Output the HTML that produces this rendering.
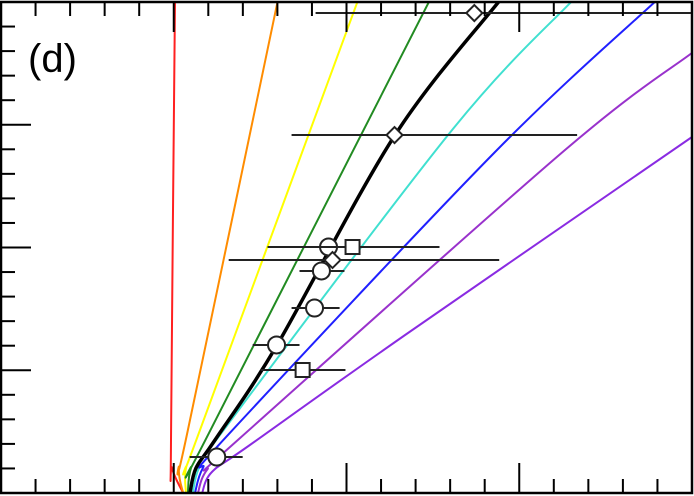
<!DOCTYPE html>
<html><head><meta charset="utf-8"><style>
html,body{margin:0;padding:0;background:#fff;}
svg{display:block;}
</style></head><body>
<svg id="chart" width="694" height="496" xmlns="http://www.w3.org/2000/svg">
<text x="28" y="72" font-family="Liberation Sans, sans-serif" font-size="40" fill="#000">(d)</text>
</svg>
<script>
// data coordinates: x 0..4, y 0..4
const curveX = [
 [1.054,0.990,0.984,1.007],
 [1.054,1.030,1.082,1.603],
 [1.071,1.071,1.152,2.067],
 [1.082,1.100,1.198,2.483],
 [1.094,1.129,1.239,1.598,2.281,2.889],
 [1.110,1.146,1.268,2.611,3.311],
 [1.123,1.169,1.314,2.871,3.797],
 [1.140,1.192,1.384,3.265,4.000],
 [1.164,1.221,1.441,2.339,4.000]];
const curveY = [
 [0,0.204,0.432,4.016],
 [0,0.204,0.513,4.016],
 [0,0.204,0.513,4.016],
 [0,0.204,0.473,4.016],
 [0,0.204,0.432,1.206,2.916,4.016],
 [0,0.204,0.473,2.957,4.016],
 [0,0.204,0.473,2.794,4.016],
 [0,0.187,0.448,2.794,3.585],
 [0,0.171,0.391,1.287,2.900]];
const curveWidths = [2,2,2,2,3.5,2,2,2,2];
const ptX = [1.249,1.595,1.815,1.855,1.896,2.035,1.919,1.746,2.278,2.740];
const ptY = [0.293,1.206,1.507,1.809,2.004,2.004,1.898,1.002,2.916,3.910];
const ptErrLo = [1.092,1.457,1.682,1.728,1.543,1.543,1.318,1.503,1.682,1.821];
const ptErrHi = [1.399,1.728,1.960,1.988,2.538,2.538,2.884,1.994,3.335,3.994];
const ptShape = ["circle","circle","circle","circle","circle","square","diamond","square","diamond","diamond"];

const NS="http://www.w3.org/2000/svg";
const svg=document.getElementById('chart');
const X0=1,X1=692,Y0=493,Y1=2;
const sx=v=>X0+v*(X1-X0)/4;
const sy=v=>Y0-v*(Y0-Y1)/4;
function mk(t,a){const e=document.createElementNS(NS,t);for(const k in a)e.setAttribute(k,a[k]);return e;}
function smooth(P){let d='M'+P[0][0].toFixed(1)+','+P[0][1].toFixed(1);
 for(let i=0;i<P.length-1;i++){const p0=P[i-1]||P[i],p1=P[i],p2=P[i+1],p3=P[i+2]||p2;
  const c1=[p1[0]+(p2[0]-p0[0])/6,p1[1]+(p2[1]-p0[1])/6],c2=[p2[0]-(p3[0]-p1[0])/6,p2[1]-(p3[1]-p1[1])/6];
  d+=`C${c1[0].toFixed(1)},${c1[1].toFixed(1)} ${c2[0].toFixed(1)},${c2[1].toFixed(1)} ${p2[0].toFixed(1)},${p2[1].toFixed(1)}`;}
 return d;}
const defs=mk('defs',{});const cp=mk('clipPath',{id:'clip'});cp.appendChild(mk('rect',{x:X0,y:Y1,width:X1-X0,height:Y0-Y1}));defs.appendChild(cp);svg.appendChild(defs);
const gC=mk('g',{'clip-path':'url(#clip)'});


svg.appendChild(gC);
const order=[0,1,2,3,5,6,7,8,4];
const colorsFull=["#ff2020","#ff8c00","#ffff00","#228b22","#000000","#40e0d0","#2020ff","#9932cc","#8a2be2"];
const namesFull=["red","orange","yellow","green","black","cyan","blue","purple-1","purple-2"];
order.forEach(i=>{
 const P=curveX[i].map((x,j)=>[sx(x),sy(curveY[i][j])]);
 const p=mk('path',{d:smooth(P),fill:'none',stroke:colorsFull[i],'stroke-width':curveWidths[i],'stroke-linejoin':'round'});
 
 
 gC.appendChild(p);
});
ptX.forEach((x,i)=>{
 const g=mk('g',{});
 
 
 const y=sy(ptY[i]);
 g.appendChild(mk('line',{x1:sx(ptErrLo[i]),x2:sx(ptErrHi[i]),y1:y,y2:y,stroke:'#222','stroke-width':2}));
 const cx=sx(x);
 if(ptShape[i]=='circle')g.appendChild(mk('circle',{cx:cx,cy:y,r:8.5,fill:'#fff',stroke:'#222','stroke-width':2}));
 else if(ptShape[i]=='square')g.appendChild(mk('rect',{x:cx-7,y:y-7,width:14,height:14,fill:'#fff',stroke:'#222','stroke-width':2}));
 else g.appendChild(mk('path',{d:`M${cx},${y-8}L${cx+8},${y}L${cx},${y+8}L${cx-8},${y}Z`,fill:'#fff',stroke:'#222','stroke-width':2}));
 gC.appendChild(g);
});
const fr=mk('rect',{x:X0,y:Y1,width:X1-X0,height:Y0-Y1,fill:'none',stroke:'#000','stroke-width':2.5});


svg.appendChild(fr);
const tk=mk('g',{stroke:'#000','stroke-width':2});


for(let k=1;k<20;k++){
 const L=k%5==0?30:14;const x=sx(k/5),y=sy(k/5);
 tk.appendChild(mk('line',{x1:x,x2:x,y1:Y0,y2:Y0-L}));
 tk.appendChild(mk('line',{x1:x,x2:x,y1:Y1,y2:Y1+L}));
 tk.appendChild(mk('line',{x1:X0,x2:X0+L,y1:y,y2:y}));
}
svg.appendChild(tk);
</script>
</body></html>
